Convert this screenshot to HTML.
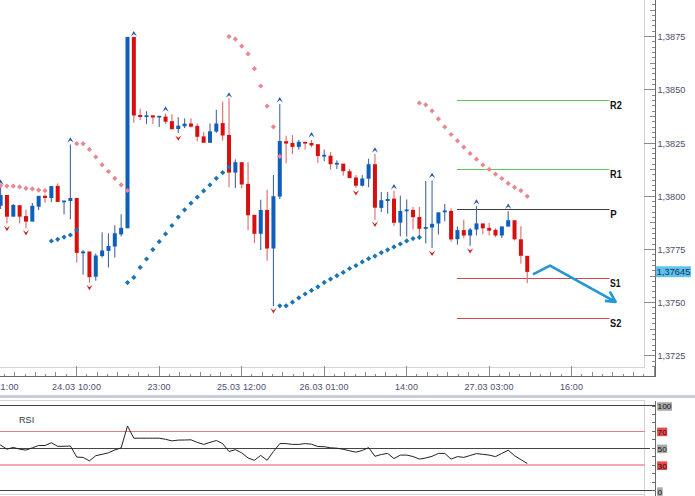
<!DOCTYPE html>
<html><head><meta charset="utf-8"><style>
html,body{margin:0;padding:0;background:#fff;width:695px;height:496px;overflow:hidden}
svg{display:block;font-family:"Liberation Sans",sans-serif}
</style></head><body>
<svg width="695" height="496" viewBox="0 0 695 496">
<rect width="695" height="496" fill="#fff"/>
<g shape-rendering="crispEdges">
<line x1="0" y1="367.5" x2="644.5" y2="367.5" stroke="#d4d4d8" stroke-width="1"/>
<line x1="644.5" y1="0" x2="644.5" y2="367.5" stroke="#d4d4d8" stroke-width="1"/>
</g>
<line x1="457" y1="100.5" x2="609.5" y2="100.5" stroke="#5fc65f" stroke-width="1"/>
<line x1="457" y1="169.5" x2="609.5" y2="169.5" stroke="#5fc65f" stroke-width="1"/>
<line x1="457" y1="209.5" x2="609.5" y2="209.5" stroke="#3a3a3a" stroke-width="1"/>
<line x1="457" y1="278.5" x2="609.5" y2="278.5" stroke="#cf4a4a" stroke-width="1"/>
<line x1="457" y1="318.5" x2="609.5" y2="318.5" stroke="#cf4a4a" stroke-width="1"/>
<rect x="0.05" y="184" width="1.1" height="11.5" fill="#46699a"/>
<rect x="0.05" y="205.3" width="1.1" height="3.7" fill="#46699a"/>
<rect x="-1.4" y="195" width="4" height="10.8" fill="#0d5fbb"/>
<rect x="6.39" y="216.2" width="1.1" height="7.2" fill="#dc6a6a"/>
<rect x="4.94" y="195" width="4" height="21.7" fill="#d80f0f"/>
<rect x="12.74" y="204" width="1.1" height="1.5" fill="#46699a"/>
<rect x="11.29" y="205" width="4" height="11.7" fill="#0d5fbb"/>
<rect x="19.09" y="216.2" width="1.1" height="7.2" fill="#dc6a6a"/>
<rect x="17.64" y="205.2" width="4" height="11.5" fill="#d80f0f"/>
<rect x="25.43" y="209.5" width="1.1" height="7.1" fill="#dc6a6a"/>
<rect x="25.43" y="221.1" width="1.1" height="7.1" fill="#dc6a6a"/>
<rect x="23.98" y="216.1" width="4" height="5.5" fill="#d80f0f"/>
<rect x="31.77" y="203" width="1.1" height="3.3" fill="#46699a"/>
<rect x="30.32" y="205.8" width="4" height="15.8" fill="#0d5fbb"/>
<rect x="38.12" y="206.2" width="1.1" height="3.8" fill="#46699a"/>
<rect x="36.67" y="195.8" width="4" height="10.9" fill="#0d5fbb"/>
<rect x="44.47" y="194.4" width="1.1" height="1.9" fill="#dc6a6a"/>
<rect x="44.47" y="197.5" width="1.1" height="5.3" fill="#dc6a6a"/>
<rect x="43.02" y="195.8" width="4" height="2.2" fill="#d80f0f"/>
<rect x="50.81" y="197.5" width="1.1" height="4.7" fill="#46699a"/>
<rect x="49.36" y="186.1" width="4" height="11.9" fill="#0d5fbb"/>
<rect x="57.16" y="183.5" width="1.1" height="2.9" fill="#dc6a6a"/>
<rect x="55.7" y="185.9" width="4" height="16" fill="#d80f0f"/>
<rect x="63.5" y="201.8" width="1.1" height="12.7" fill="#46699a"/>
<rect x="62.05" y="200.5" width="4" height="1.8" fill="#0d5fbb"/>
<rect x="69.84" y="144.5" width="1.1" height="54" fill="#46699a"/>
<rect x="69.84" y="200.5" width="1.1" height="18.7" fill="#46699a"/>
<rect x="68.39" y="198" width="4" height="3" fill="#0d5fbb"/>
<rect x="76.19" y="252.4" width="1.1" height="10.2" fill="#dc6a6a"/>
<rect x="74.74" y="198" width="4" height="54.9" fill="#d80f0f"/>
<rect x="82.53" y="249.9" width="1.1" height="2.1" fill="#46699a"/>
<rect x="82.53" y="252.8" width="1.1" height="21.9" fill="#46699a"/>
<rect x="81.08" y="251.5" width="4" height="1.8" fill="#0d5fbb"/>
<rect x="88.88" y="276.6" width="1.1" height="6.1" fill="#dc6a6a"/>
<rect x="87.43" y="251.5" width="4" height="25.6" fill="#d80f0f"/>
<rect x="95.22" y="253.5" width="1.1" height="2.5" fill="#46699a"/>
<rect x="95.22" y="276.2" width="1.1" height="4.5" fill="#46699a"/>
<rect x="93.77" y="255.5" width="4" height="21.2" fill="#0d5fbb"/>
<rect x="101.57" y="232.3" width="1.1" height="18.7" fill="#46699a"/>
<rect x="101.57" y="255.6" width="1.1" height="1.9" fill="#46699a"/>
<rect x="100.12" y="250.5" width="4" height="5.6" fill="#0d5fbb"/>
<rect x="107.91" y="233.3" width="1.1" height="13.2" fill="#46699a"/>
<rect x="107.91" y="250.4" width="1.1" height="17.2" fill="#46699a"/>
<rect x="106.46" y="246" width="4" height="4.9" fill="#0d5fbb"/>
<rect x="114.26" y="225.3" width="1.1" height="8.5" fill="#46699a"/>
<rect x="114.26" y="246" width="1.1" height="11.5" fill="#46699a"/>
<rect x="112.81" y="233.3" width="4" height="13.2" fill="#0d5fbb"/>
<rect x="120.6" y="214.2" width="1.1" height="14.2" fill="#46699a"/>
<rect x="120.6" y="233.9" width="1.1" height="2.5" fill="#46699a"/>
<rect x="119.15" y="227.9" width="4" height="6.5" fill="#0d5fbb"/>
<rect x="125.5" y="36.9" width="4" height="191.4" fill="#0d5fbb"/>
<rect x="133.29" y="115" width="1.1" height="7.7" fill="#dc6a6a"/>
<rect x="131.84" y="36.9" width="4" height="78.6" fill="#d80f0f"/>
<rect x="139.64" y="108.7" width="1.1" height="6.8" fill="#dc6a6a"/>
<rect x="139.64" y="116.5" width="1.1" height="3.7" fill="#dc6a6a"/>
<rect x="138.19" y="115" width="4" height="2" fill="#d80f0f"/>
<rect x="145.98" y="111.2" width="1.1" height="4.6" fill="#46699a"/>
<rect x="145.98" y="116.5" width="1.1" height="7.4" fill="#46699a"/>
<rect x="144.53" y="115.3" width="4" height="1.7" fill="#0d5fbb"/>
<rect x="152.33" y="117" width="1.1" height="6.9" fill="#dc6a6a"/>
<rect x="150.88" y="115.3" width="4" height="2.2" fill="#d80f0f"/>
<rect x="158.67" y="117" width="1.1" height="9.9" fill="#46699a"/>
<rect x="157.22" y="115.8" width="4" height="1.7" fill="#0d5fbb"/>
<rect x="165.02" y="113.6" width="1.1" height="3.5" fill="#dc6a6a"/>
<rect x="165.02" y="121.2" width="1.1" height="2.7" fill="#dc6a6a"/>
<rect x="163.57" y="116.6" width="4" height="5.1" fill="#d80f0f"/>
<rect x="171.36" y="114.2" width="1.1" height="7.5" fill="#dc6a6a"/>
<rect x="169.91" y="121.2" width="4" height="8.1" fill="#d80f0f"/>
<rect x="177.71" y="117.2" width="1.1" height="9" fill="#46699a"/>
<rect x="177.71" y="128.5" width="1.1" height="4.5" fill="#46699a"/>
<rect x="176.26" y="125.7" width="4" height="3.3" fill="#0d5fbb"/>
<rect x="184.05" y="118.4" width="1.1" height="5.7" fill="#46699a"/>
<rect x="184.05" y="125.8" width="1.1" height="2.3" fill="#46699a"/>
<rect x="182.6" y="123.6" width="4" height="2.7" fill="#0d5fbb"/>
<rect x="190.4" y="118.3" width="1.1" height="5.7" fill="#dc6a6a"/>
<rect x="190.4" y="126.2" width="1.1" height="1.3" fill="#dc6a6a"/>
<rect x="188.95" y="123.5" width="4" height="3.2" fill="#d80f0f"/>
<rect x="196.74" y="123.5" width="1.1" height="2.9" fill="#dc6a6a"/>
<rect x="196.74" y="136.3" width="1.1" height="4.9" fill="#dc6a6a"/>
<rect x="195.29" y="125.9" width="4" height="10.9" fill="#d80f0f"/>
<rect x="203.09" y="132.2" width="1.1" height="4.7" fill="#dc6a6a"/>
<rect x="201.64" y="136.4" width="4" height="6.4" fill="#d80f0f"/>
<rect x="209.43" y="123.5" width="1.1" height="8.3" fill="#46699a"/>
<rect x="207.98" y="131.3" width="4" height="11.5" fill="#0d5fbb"/>
<rect x="215.78" y="109.8" width="1.1" height="14.2" fill="#46699a"/>
<rect x="215.78" y="131.1" width="1.1" height="1.7" fill="#46699a"/>
<rect x="214.33" y="123.5" width="4" height="8.1" fill="#0d5fbb"/>
<rect x="222.12" y="101.5" width="1.1" height="22.1" fill="#dc6a6a"/>
<rect x="222.12" y="135" width="1.1" height="5.6" fill="#dc6a6a"/>
<rect x="220.67" y="123.1" width="4" height="12.4" fill="#d80f0f"/>
<rect x="228.47" y="98.3" width="1.1" height="37.2" fill="#dc6a6a"/>
<rect x="228.47" y="172.1" width="1.1" height="15.1" fill="#dc6a6a"/>
<rect x="227.02" y="135" width="4" height="37.6" fill="#d80f0f"/>
<rect x="234.81" y="159.4" width="1.1" height="3.3" fill="#46699a"/>
<rect x="234.81" y="172.1" width="1.1" height="15.8" fill="#46699a"/>
<rect x="233.36" y="162.2" width="4" height="10.4" fill="#0d5fbb"/>
<rect x="241.16" y="184" width="1.1" height="4.5" fill="#dc6a6a"/>
<rect x="239.71" y="162.2" width="4" height="22.3" fill="#d80f0f"/>
<rect x="247.5" y="162.2" width="1.1" height="22.2" fill="#dc6a6a"/>
<rect x="247.5" y="214.8" width="1.1" height="15.3" fill="#dc6a6a"/>
<rect x="246.05" y="183.9" width="4" height="31.4" fill="#d80f0f"/>
<rect x="253.85" y="233.3" width="1.1" height="9.7" fill="#dc6a6a"/>
<rect x="252.4" y="214.8" width="4" height="19" fill="#d80f0f"/>
<rect x="260.19" y="199.7" width="1.1" height="10.8" fill="#46699a"/>
<rect x="260.19" y="233.3" width="1.1" height="16.7" fill="#46699a"/>
<rect x="258.75" y="210" width="4" height="23.8" fill="#0d5fbb"/>
<rect x="266.54" y="189.8" width="1.1" height="20.7" fill="#dc6a6a"/>
<rect x="266.54" y="248" width="1.1" height="12.8" fill="#dc6a6a"/>
<rect x="265.09" y="210" width="4" height="38.5" fill="#d80f0f"/>
<rect x="272.88" y="175" width="1.1" height="21.7" fill="#46699a"/>
<rect x="272.88" y="248" width="1.1" height="58.1" fill="#46699a"/>
<rect x="271.44" y="196.2" width="4" height="52.3" fill="#0d5fbb"/>
<rect x="279.23" y="104.2" width="1.1" height="37.3" fill="#46699a"/>
<rect x="279.23" y="196.1" width="1.1" height="2.9" fill="#46699a"/>
<rect x="277.78" y="141" width="4" height="55.6" fill="#0d5fbb"/>
<rect x="285.57" y="135.7" width="1.1" height="6" fill="#dc6a6a"/>
<rect x="285.57" y="143.1" width="1.1" height="20.4" fill="#dc6a6a"/>
<rect x="284.12" y="141.2" width="4" height="2.4" fill="#d80f0f"/>
<rect x="291.92" y="135.1" width="1.1" height="8.4" fill="#dc6a6a"/>
<rect x="291.92" y="146.4" width="1.1" height="7.5" fill="#dc6a6a"/>
<rect x="290.47" y="143" width="4" height="3.9" fill="#d80f0f"/>
<rect x="298.26" y="140" width="1.1" height="2.3" fill="#46699a"/>
<rect x="298.26" y="146.4" width="1.1" height="3.2" fill="#46699a"/>
<rect x="296.81" y="141.8" width="4" height="5.1" fill="#0d5fbb"/>
<rect x="304.61" y="143.1" width="1.1" height="6.5" fill="#dc6a6a"/>
<rect x="303.16" y="141.8" width="4" height="1.8" fill="#d80f0f"/>
<rect x="310.95" y="140" width="1.1" height="3.5" fill="#dc6a6a"/>
<rect x="310.95" y="144.9" width="1.1" height="2.3" fill="#dc6a6a"/>
<rect x="309.5" y="143" width="4" height="2.4" fill="#d80f0f"/>
<rect x="317.3" y="155.5" width="1.1" height="7.5" fill="#dc6a6a"/>
<rect x="315.85" y="144.2" width="4" height="11.8" fill="#d80f0f"/>
<rect x="323.64" y="149.6" width="1.1" height="5.7" fill="#46699a"/>
<rect x="323.64" y="156.1" width="1.1" height="5" fill="#46699a"/>
<rect x="322.19" y="154.8" width="4" height="1.8" fill="#0d5fbb"/>
<rect x="329.99" y="152" width="1.1" height="4.2" fill="#dc6a6a"/>
<rect x="329.99" y="163.7" width="1.1" height="5.9" fill="#dc6a6a"/>
<rect x="328.54" y="155.7" width="4" height="8.5" fill="#d80f0f"/>
<rect x="336.33" y="160.3" width="1.1" height="3" fill="#46699a"/>
<rect x="336.33" y="164.1" width="1.1" height="4.9" fill="#46699a"/>
<rect x="334.88" y="162.8" width="4" height="1.8" fill="#0d5fbb"/>
<rect x="342.68" y="170.7" width="1.1" height="5" fill="#dc6a6a"/>
<rect x="341.23" y="163.6" width="4" height="7.6" fill="#d80f0f"/>
<rect x="349.02" y="169" width="1.1" height="2.7" fill="#dc6a6a"/>
<rect x="347.57" y="171.2" width="4" height="6.9" fill="#d80f0f"/>
<rect x="355.37" y="175.1" width="1.1" height="2.9" fill="#dc6a6a"/>
<rect x="355.37" y="185.2" width="1.1" height="2.6" fill="#dc6a6a"/>
<rect x="353.92" y="177.5" width="4" height="8.2" fill="#d80f0f"/>
<rect x="361.71" y="175.1" width="1.1" height="3.9" fill="#46699a"/>
<rect x="361.71" y="185.2" width="1.1" height="1.4" fill="#46699a"/>
<rect x="360.26" y="178.5" width="4" height="7.2" fill="#0d5fbb"/>
<rect x="368.06" y="158.7" width="1.1" height="6" fill="#46699a"/>
<rect x="368.06" y="178.2" width="1.1" height="9" fill="#46699a"/>
<rect x="366.61" y="164.2" width="4" height="14.5" fill="#0d5fbb"/>
<rect x="374.4" y="153.9" width="1.1" height="10.8" fill="#dc6a6a"/>
<rect x="374.4" y="207.2" width="1.1" height="12.6" fill="#dc6a6a"/>
<rect x="372.95" y="164.2" width="4" height="43.5" fill="#d80f0f"/>
<rect x="380.75" y="191.9" width="1.1" height="8.8" fill="#46699a"/>
<rect x="380.75" y="207.4" width="1.1" height="4.5" fill="#46699a"/>
<rect x="379.3" y="200.2" width="4" height="7.7" fill="#0d5fbb"/>
<rect x="387.09" y="191.9" width="1.1" height="7.6" fill="#46699a"/>
<rect x="387.09" y="200.5" width="1.1" height="13.2" fill="#46699a"/>
<rect x="385.64" y="199" width="4" height="2" fill="#0d5fbb"/>
<rect x="393.44" y="190.7" width="1.1" height="8.4" fill="#dc6a6a"/>
<rect x="393.44" y="222.3" width="1.1" height="3.7" fill="#dc6a6a"/>
<rect x="391.99" y="198.6" width="4" height="24.2" fill="#d80f0f"/>
<rect x="399.78" y="195.7" width="1.1" height="15.8" fill="#46699a"/>
<rect x="399.78" y="222.1" width="1.1" height="14.2" fill="#46699a"/>
<rect x="398.33" y="211" width="4" height="11.6" fill="#0d5fbb"/>
<rect x="406.13" y="199.5" width="1.1" height="10.5" fill="#46699a"/>
<rect x="406.13" y="210.8" width="1.1" height="25.7" fill="#46699a"/>
<rect x="404.68" y="209.5" width="4" height="1.8" fill="#0d5fbb"/>
<rect x="412.48" y="207" width="1.1" height="3.4" fill="#dc6a6a"/>
<rect x="412.48" y="216.7" width="1.1" height="12.8" fill="#dc6a6a"/>
<rect x="411.03" y="209.9" width="4" height="7.3" fill="#d80f0f"/>
<rect x="418.82" y="207" width="1.1" height="10.5" fill="#dc6a6a"/>
<rect x="418.82" y="228.3" width="1.1" height="7.7" fill="#dc6a6a"/>
<rect x="417.37" y="217" width="4" height="11.8" fill="#d80f0f"/>
<rect x="425.17" y="181" width="1.1" height="46.5" fill="#46699a"/>
<rect x="425.17" y="228.3" width="1.1" height="15.1" fill="#46699a"/>
<rect x="423.72" y="227" width="4" height="1.8" fill="#0d5fbb"/>
<rect x="431.51" y="180.5" width="1.1" height="43.8" fill="#46699a"/>
<rect x="431.51" y="227" width="1.1" height="21" fill="#46699a"/>
<rect x="430.06" y="223.8" width="4" height="3.7" fill="#0d5fbb"/>
<rect x="437.86" y="223" width="1.1" height="11.5" fill="#46699a"/>
<rect x="436.41" y="212.3" width="4" height="11.2" fill="#0d5fbb"/>
<rect x="444.2" y="203.9" width="1.1" height="7.1" fill="#46699a"/>
<rect x="444.2" y="211.8" width="1.1" height="9.5" fill="#46699a"/>
<rect x="442.75" y="210.5" width="4" height="1.8" fill="#0d5fbb"/>
<rect x="450.55" y="208.3" width="1.1" height="3.1" fill="#dc6a6a"/>
<rect x="450.55" y="238.9" width="1.1" height="2.8" fill="#dc6a6a"/>
<rect x="449.1" y="210.9" width="4" height="28.5" fill="#d80f0f"/>
<rect x="456.89" y="226.5" width="1.1" height="4.1" fill="#46699a"/>
<rect x="456.89" y="238.7" width="1.1" height="5.9" fill="#46699a"/>
<rect x="455.44" y="230.1" width="4" height="9.1" fill="#0d5fbb"/>
<rect x="463.24" y="219.8" width="1.1" height="10.8" fill="#dc6a6a"/>
<rect x="463.24" y="235" width="1.1" height="3.3" fill="#dc6a6a"/>
<rect x="461.79" y="230.1" width="4" height="5.4" fill="#d80f0f"/>
<rect x="469.58" y="227.9" width="1.1" height="2.1" fill="#46699a"/>
<rect x="469.58" y="235" width="1.1" height="10.8" fill="#46699a"/>
<rect x="468.13" y="229.5" width="4" height="6" fill="#0d5fbb"/>
<rect x="475.93" y="205.9" width="1.1" height="18" fill="#46699a"/>
<rect x="475.93" y="229" width="1.1" height="6.5" fill="#46699a"/>
<rect x="474.48" y="223.4" width="4" height="6.1" fill="#0d5fbb"/>
<rect x="482.27" y="227.8" width="1.1" height="6.5" fill="#dc6a6a"/>
<rect x="480.82" y="223.4" width="4" height="4.9" fill="#d80f0f"/>
<rect x="488.62" y="223" width="1.1" height="5.4" fill="#dc6a6a"/>
<rect x="488.62" y="230.2" width="1.1" height="5.3" fill="#dc6a6a"/>
<rect x="487.17" y="227.9" width="4" height="2.8" fill="#d80f0f"/>
<rect x="494.96" y="228.3" width="1.1" height="2" fill="#dc6a6a"/>
<rect x="494.96" y="235" width="1.1" height="2.3" fill="#dc6a6a"/>
<rect x="493.51" y="229.8" width="4" height="5.7" fill="#d80f0f"/>
<rect x="501.31" y="235" width="1.1" height="3" fill="#46699a"/>
<rect x="499.86" y="226.4" width="4" height="9.1" fill="#0d5fbb"/>
<rect x="507.65" y="211.2" width="1.1" height="9.5" fill="#46699a"/>
<rect x="506.2" y="220.2" width="4" height="6.4" fill="#0d5fbb"/>
<rect x="514" y="238.8" width="1.1" height="1.7" fill="#dc6a6a"/>
<rect x="512.54" y="220.2" width="4" height="19.1" fill="#d80f0f"/>
<rect x="520.34" y="226.2" width="1.1" height="13.6" fill="#dc6a6a"/>
<rect x="520.34" y="255.3" width="1.1" height="8.4" fill="#dc6a6a"/>
<rect x="518.89" y="239.3" width="4" height="16.5" fill="#d80f0f"/>
<rect x="526.69" y="271.4" width="1.1" height="11.7" fill="#dc6a6a"/>
<rect x="525.24" y="255.8" width="4" height="16.1" fill="#d80f0f"/>
<path d="M0.6 183L3.2 185.6L0.6 188.2L-2 185.6Z" fill="#e9878f"/>
<path d="M6.94 183.5L9.54 186.1L6.94 188.7L4.34 186.1Z" fill="#e9878f"/>
<path d="M13.29 183.5L15.89 186.1L13.29 188.7L10.69 186.1Z" fill="#e9878f"/>
<path d="M19.64 184.3L22.24 186.9L19.64 189.5L17.04 186.9Z" fill="#e9878f"/>
<path d="M25.98 185.7L28.58 188.3L25.98 190.9L23.38 188.3Z" fill="#e9878f"/>
<path d="M32.32 186.3L34.92 188.9L32.32 191.5L29.72 188.9Z" fill="#e9878f"/>
<path d="M38.67 187.5L41.27 190.1L38.67 192.7L36.07 190.1Z" fill="#e9878f"/>
<path d="M45.02 188.1L47.62 190.7L45.02 193.3L42.41 190.7Z" fill="#e9878f"/>
<path d="M76.74 141.1L79.34 143.7L76.74 146.3L74.14 143.7Z" fill="#e9878f"/>
<path d="M83.08 141.1L85.68 143.7L83.08 146.3L80.48 143.7Z" fill="#e9878f"/>
<path d="M89.43 146.8L92.03 149.4L89.43 152L86.83 149.4Z" fill="#e9878f"/>
<path d="M95.77 154.4L98.37 157L95.77 159.6L93.17 157Z" fill="#e9878f"/>
<path d="M102.12 162.2L104.72 164.8L102.12 167.4L99.52 164.8Z" fill="#e9878f"/>
<path d="M108.46 168.9L111.06 171.5L108.46 174.1L105.86 171.5Z" fill="#e9878f"/>
<path d="M114.81 175.8L117.41 178.4L114.81 181L112.21 178.4Z" fill="#e9878f"/>
<path d="M121.15 182.2L123.75 184.8L121.15 187.4L118.55 184.8Z" fill="#e9878f"/>
<path d="M127.5 187.9L130.1 190.5L127.5 193.1L124.9 190.5Z" fill="#e9878f"/>
<path d="M229.02 34L231.62 36.6L229.02 39.2L226.42 36.6Z" fill="#e9878f"/>
<path d="M235.36 36.5L237.96 39.1L235.36 41.7L232.76 39.1Z" fill="#e9878f"/>
<path d="M241.71 43.6L244.31 46.2L241.71 48.8L239.11 46.2Z" fill="#e9878f"/>
<path d="M248.05 51.3L250.65 53.9L248.05 56.5L245.45 53.9Z" fill="#e9878f"/>
<path d="M254.4 66.1L257 68.7L254.4 71.3L251.8 68.7Z" fill="#e9878f"/>
<path d="M260.75 83.4L263.35 86L260.75 88.6L258.14 86Z" fill="#e9878f"/>
<path d="M267.09 103.5L269.69 106.1L267.09 108.7L264.49 106.1Z" fill="#e9878f"/>
<path d="M273.44 124.2L276.04 126.8L273.44 129.4L270.83 126.8Z" fill="#e9878f"/>
<path d="M279.78 153.8L282.38 156.4L279.78 159L277.18 156.4Z" fill="#e9878f"/>
<path d="M419.37 100.4L421.97 103L419.37 105.6L416.77 103Z" fill="#e9878f"/>
<path d="M425.72 102.2L428.32 104.8L425.72 107.4L423.12 104.8Z" fill="#e9878f"/>
<path d="M432.06 108.3L434.66 110.9L432.06 113.5L429.46 110.9Z" fill="#e9878f"/>
<path d="M438.41 116.3L441.01 118.9L438.41 121.5L435.81 118.9Z" fill="#e9878f"/>
<path d="M444.75 124.4L447.35 127L444.75 129.6L442.15 127Z" fill="#e9878f"/>
<path d="M451.1 131.9L453.7 134.5L451.1 137.1L448.5 134.5Z" fill="#e9878f"/>
<path d="M457.44 138.2L460.04 140.8L457.44 143.4L454.84 140.8Z" fill="#e9878f"/>
<path d="M463.79 144.6L466.39 147.2L463.79 149.8L461.19 147.2Z" fill="#e9878f"/>
<path d="M470.13 150.9L472.73 153.5L470.13 156.1L467.53 153.5Z" fill="#e9878f"/>
<path d="M476.48 156.6L479.08 159.2L476.48 161.8L473.88 159.2Z" fill="#e9878f"/>
<path d="M482.82 162.4L485.42 165L482.82 167.6L480.22 165Z" fill="#e9878f"/>
<path d="M489.17 166.7L491.77 169.3L489.17 171.9L486.56 169.3Z" fill="#e9878f"/>
<path d="M495.51 171.6L498.11 174.2L495.51 176.8L492.91 174.2Z" fill="#e9878f"/>
<path d="M501.86 175.9L504.46 178.5L501.86 181.1L499.25 178.5Z" fill="#e9878f"/>
<path d="M508.2 180.8L510.8 183.4L508.2 186L505.6 183.4Z" fill="#e9878f"/>
<path d="M514.54 184.7L517.14 187.3L514.54 189.9L511.94 187.3Z" fill="#e9878f"/>
<path d="M520.89 188L523.49 190.6L520.89 193.2L518.29 190.6Z" fill="#e9878f"/>
<path d="M527.24 193.7L529.84 196.3L527.24 198.9L524.63 196.3Z" fill="#e9878f"/>
<path d="M51.36 238.4L53.96 241L51.36 243.6L48.76 241Z" fill="#1a74b6"/>
<path d="M57.7 236.7L60.3 239.3L57.7 241.9L55.1 239.3Z" fill="#1a74b6"/>
<path d="M64.05 234.5L66.65 237.1L64.05 239.7L61.45 237.1Z" fill="#1a74b6"/>
<path d="M70.39 232.4L72.99 235L70.39 237.6L67.8 235Z" fill="#1a74b6"/>
<path d="M76.74 227.5L79.34 230.1L76.74 232.7L74.14 230.1Z" fill="#1a74b6"/>
<path d="M127.5 280L130.1 282.6L127.5 285.2L124.9 282.6Z" fill="#1a74b6"/>
<path d="M133.84 274.8L136.44 277.4L133.84 280L131.25 277.4Z" fill="#1a74b6"/>
<path d="M140.19 264.8L142.79 267.4L140.19 270L137.59 267.4Z" fill="#1a74b6"/>
<path d="M146.53 256.4L149.13 259L146.53 261.6L143.94 259Z" fill="#1a74b6"/>
<path d="M152.88 247L155.48 249.6L152.88 252.2L150.28 249.6Z" fill="#1a74b6"/>
<path d="M159.22 239.1L161.82 241.7L159.22 244.3L156.62 241.7Z" fill="#1a74b6"/>
<path d="M165.57 231.3L168.17 233.9L165.57 236.5L162.97 233.9Z" fill="#1a74b6"/>
<path d="M171.91 222.9L174.51 225.5L171.91 228.1L169.31 225.5Z" fill="#1a74b6"/>
<path d="M178.26 214.5L180.86 217.1L178.26 219.7L175.66 217.1Z" fill="#1a74b6"/>
<path d="M184.6 207.2L187.2 209.8L184.6 212.4L182 209.8Z" fill="#1a74b6"/>
<path d="M190.95 200.6L193.55 203.2L190.95 205.8L188.35 203.2Z" fill="#1a74b6"/>
<path d="M197.29 194.6L199.89 197.2L197.29 199.8L194.69 197.2Z" fill="#1a74b6"/>
<path d="M203.64 188.3L206.24 190.9L203.64 193.5L201.04 190.9Z" fill="#1a74b6"/>
<path d="M209.98 182.3L212.58 184.9L209.98 187.5L207.38 184.9Z" fill="#1a74b6"/>
<path d="M216.33 175.7L218.93 178.3L216.33 180.9L213.73 178.3Z" fill="#1a74b6"/>
<path d="M222.67 170L225.27 172.6L222.67 175.2L220.07 172.6Z" fill="#1a74b6"/>
<path d="M229.02 164.5L231.62 167.1L229.02 169.7L226.42 167.1Z" fill="#1a74b6"/>
<path d="M279.78 303.2L282.38 305.8L279.78 308.4L277.18 305.8Z" fill="#1a74b6"/>
<path d="M286.12 303.2L288.73 305.8L286.12 308.4L283.52 305.8Z" fill="#1a74b6"/>
<path d="M292.47 299.6L295.07 302.2L292.47 304.8L289.87 302.2Z" fill="#1a74b6"/>
<path d="M298.81 295.2L301.42 297.8L298.81 300.4L296.21 297.8Z" fill="#1a74b6"/>
<path d="M305.16 291.4L307.76 294L305.16 296.6L302.56 294Z" fill="#1a74b6"/>
<path d="M311.5 287.8L314.11 290.4L311.5 293L308.9 290.4Z" fill="#1a74b6"/>
<path d="M317.85 284.2L320.45 286.8L317.85 289.4L315.25 286.8Z" fill="#1a74b6"/>
<path d="M324.19 279.8L326.8 282.4L324.19 285L321.59 282.4Z" fill="#1a74b6"/>
<path d="M330.54 276.5L333.14 279.1L330.54 281.7L327.94 279.1Z" fill="#1a74b6"/>
<path d="M336.88 273.1L339.49 275.7L336.88 278.3L334.28 275.7Z" fill="#1a74b6"/>
<path d="M343.23 269.8L345.83 272.4L343.23 275L340.63 272.4Z" fill="#1a74b6"/>
<path d="M349.57 265.9L352.18 268.5L349.57 271.1L346.97 268.5Z" fill="#1a74b6"/>
<path d="M355.92 263L358.52 265.6L355.92 268.2L353.32 265.6Z" fill="#1a74b6"/>
<path d="M362.26 259.3L364.87 261.9L362.26 264.5L359.66 261.9Z" fill="#1a74b6"/>
<path d="M368.61 256.1L371.21 258.7L368.61 261.3L366.01 258.7Z" fill="#1a74b6"/>
<path d="M374.95 253.5L377.56 256.1L374.95 258.7L372.35 256.1Z" fill="#1a74b6"/>
<path d="M381.3 250.1L383.9 252.7L381.3 255.3L378.7 252.7Z" fill="#1a74b6"/>
<path d="M387.64 247.2L390.25 249.8L387.64 252.4L385.04 249.8Z" fill="#1a74b6"/>
<path d="M393.99 244.3L396.59 246.9L393.99 249.5L391.39 246.9Z" fill="#1a74b6"/>
<path d="M400.33 241.4L402.94 244L400.33 246.6L397.73 244Z" fill="#1a74b6"/>
<path d="M406.68 238.3L409.28 240.9L406.68 243.5L404.08 240.9Z" fill="#1a74b6"/>
<path d="M413.03 236L415.63 238.6L413.03 241.2L410.43 238.6Z" fill="#1a74b6"/>
<path d="M419.37 234.7L421.97 237.3L419.37 239.9L416.77 237.3Z" fill="#1a74b6"/>
<path d="M-2.5 184.9L0.6 179.5L3.7 184.9L0.6 182.5Z" fill="#21569e"/>
<path d="M67.3 142.7L70.39 137.3L73.49 142.7L70.39 140.3Z" fill="#21569e"/>
<path d="M130.75 36.3L133.84 30.9L136.94 36.3L133.84 33.9Z" fill="#21569e"/>
<path d="M162.47 111.7L165.57 106.3L168.67 111.7L165.57 109.3Z" fill="#21569e"/>
<path d="M225.92 97.7L229.02 92.3L232.12 97.7L229.02 95.3Z" fill="#21569e"/>
<path d="M276.68 102.4L279.78 97L282.88 102.4L279.78 100Z" fill="#21569e"/>
<path d="M308.4 137.5L311.5 132.1L314.61 137.5L311.5 135.1Z" fill="#21569e"/>
<path d="M371.85 152.7L374.95 147.3L378.06 152.7L374.95 150.3Z" fill="#21569e"/>
<path d="M390.89 189.4L393.99 184L397.09 189.4L393.99 187Z" fill="#21569e"/>
<path d="M428.96 178.1L432.06 172.7L435.16 178.1L432.06 175.7Z" fill="#21569e"/>
<path d="M473.38 204.6L476.48 199.2L479.58 204.6L476.48 202.2Z" fill="#21569e"/>
<path d="M505.1 209L508.2 203.6L511.3 209L508.2 206.6Z" fill="#21569e"/>
<path d="M3.84 225.8L6.94 231.2L10.04 225.8L6.94 228.2Z" fill="#cf1c1c"/>
<path d="M22.88 230L25.98 235.4L29.08 230L25.98 232.4Z" fill="#cf1c1c"/>
<path d="M86.33 284.8L89.43 290.2L92.53 284.8L89.43 287.2Z" fill="#cf1c1c"/>
<path d="M175.16 135.4L178.26 140.8L181.36 135.4L178.26 137.8Z" fill="#cf1c1c"/>
<path d="M270.33 308L273.44 313.4L276.54 308L273.44 310.4Z" fill="#cf1c1c"/>
<path d="M352.82 190.2L355.92 195.6L359.02 190.2L355.92 192.6Z" fill="#cf1c1c"/>
<path d="M371.85 221.6L374.95 227L378.06 221.6L374.95 224Z" fill="#cf1c1c"/>
<path d="M428.96 250.7L432.06 256.1L435.16 250.7L432.06 253.1Z" fill="#cf1c1c"/>
<path d="M467.03 248.2L470.13 253.6L473.23 248.2L470.13 250.6Z" fill="#cf1c1c"/>
<path d="M533 274.4L550 265.6L615 301.6" fill="none" stroke="#2297d6" stroke-width="2.7" stroke-linejoin="round"/>
<path d="M609.8 291.6L615.6 301.9L604.9 300.9" fill="none" stroke="#2297d6" stroke-width="2.7" stroke-linejoin="round" stroke-linecap="butt"/>
<text x="610.1" y="108.8" font-family="Liberation Sans" font-weight="bold" font-size="10.4" fill="#111" textLength="11.7" lengthAdjust="spacingAndGlyphs">R2</text>
<text x="610.1" y="177.8" font-family="Liberation Sans" font-weight="bold" font-size="10.4" fill="#111" textLength="11.7" lengthAdjust="spacingAndGlyphs">R1</text>
<text x="610.3" y="217.8" font-family="Liberation Sans" font-weight="bold" font-size="10.4" fill="#111" textLength="6.4" lengthAdjust="spacingAndGlyphs">P</text>
<text x="610.1" y="286.8" font-family="Liberation Sans" font-weight="bold" font-size="10.4" fill="#111" textLength="10.6" lengthAdjust="spacingAndGlyphs">S1</text>
<text x="610.1" y="327.1" font-family="Liberation Sans" font-weight="bold" font-size="10.4" fill="#111" textLength="11.2" lengthAdjust="spacingAndGlyphs">S2</text>
<g shape-rendering="crispEdges">
<line x1="655.5" y1="0" x2="655.5" y2="376.5" stroke="#6a6a6a" stroke-width="1"/>
<line x1="0" y1="376.5" x2="656" y2="376.5" stroke="#6a6a6a" stroke-width="1"/>
<line x1="652" y1="4.5" x2="655" y2="4.5" stroke="#8a8a8a" stroke-width="1"/>
<line x1="650" y1="10.5" x2="655" y2="10.5" stroke="#8a8a8a" stroke-width="1"/>
<line x1="652" y1="15.5" x2="655" y2="15.5" stroke="#8a8a8a" stroke-width="1"/>
<line x1="652" y1="20.5" x2="655" y2="20.5" stroke="#8a8a8a" stroke-width="1"/>
<line x1="652" y1="25.5" x2="655" y2="25.5" stroke="#8a8a8a" stroke-width="1"/>
<line x1="652" y1="31.5" x2="655" y2="31.5" stroke="#8a8a8a" stroke-width="1"/>
<line x1="644" y1="36.5" x2="655" y2="36.5" stroke="#8a8a8a" stroke-width="1"/>
<line x1="652" y1="41.5" x2="655" y2="41.5" stroke="#8a8a8a" stroke-width="1"/>
<line x1="652" y1="47.5" x2="655" y2="47.5" stroke="#8a8a8a" stroke-width="1"/>
<line x1="652" y1="52.5" x2="655" y2="52.5" stroke="#8a8a8a" stroke-width="1"/>
<line x1="652" y1="57.5" x2="655" y2="57.5" stroke="#8a8a8a" stroke-width="1"/>
<line x1="650" y1="63.5" x2="655" y2="63.5" stroke="#8a8a8a" stroke-width="1"/>
<line x1="652" y1="68.5" x2="655" y2="68.5" stroke="#8a8a8a" stroke-width="1"/>
<line x1="652" y1="73.5" x2="655" y2="73.5" stroke="#8a8a8a" stroke-width="1"/>
<line x1="652" y1="79.5" x2="655" y2="79.5" stroke="#8a8a8a" stroke-width="1"/>
<line x1="652" y1="84.5" x2="655" y2="84.5" stroke="#8a8a8a" stroke-width="1"/>
<line x1="644" y1="89.5" x2="655" y2="89.5" stroke="#8a8a8a" stroke-width="1"/>
<line x1="652" y1="95.5" x2="655" y2="95.5" stroke="#8a8a8a" stroke-width="1"/>
<line x1="652" y1="100.5" x2="655" y2="100.5" stroke="#8a8a8a" stroke-width="1"/>
<line x1="652" y1="105.5" x2="655" y2="105.5" stroke="#8a8a8a" stroke-width="1"/>
<line x1="652" y1="111.5" x2="655" y2="111.5" stroke="#8a8a8a" stroke-width="1"/>
<line x1="650" y1="116.5" x2="655" y2="116.5" stroke="#8a8a8a" stroke-width="1"/>
<line x1="652" y1="121.5" x2="655" y2="121.5" stroke="#8a8a8a" stroke-width="1"/>
<line x1="652" y1="127.5" x2="655" y2="127.5" stroke="#8a8a8a" stroke-width="1"/>
<line x1="652" y1="132.5" x2="655" y2="132.5" stroke="#8a8a8a" stroke-width="1"/>
<line x1="652" y1="137.5" x2="655" y2="137.5" stroke="#8a8a8a" stroke-width="1"/>
<line x1="644" y1="143.5" x2="655" y2="143.5" stroke="#8a8a8a" stroke-width="1"/>
<line x1="652" y1="148.5" x2="655" y2="148.5" stroke="#8a8a8a" stroke-width="1"/>
<line x1="652" y1="153.5" x2="655" y2="153.5" stroke="#8a8a8a" stroke-width="1"/>
<line x1="652" y1="158.5" x2="655" y2="158.5" stroke="#8a8a8a" stroke-width="1"/>
<line x1="652" y1="164.5" x2="655" y2="164.5" stroke="#8a8a8a" stroke-width="1"/>
<line x1="650" y1="169.5" x2="655" y2="169.5" stroke="#8a8a8a" stroke-width="1"/>
<line x1="652" y1="174.5" x2="655" y2="174.5" stroke="#8a8a8a" stroke-width="1"/>
<line x1="652" y1="180.5" x2="655" y2="180.5" stroke="#8a8a8a" stroke-width="1"/>
<line x1="652" y1="185.5" x2="655" y2="185.5" stroke="#8a8a8a" stroke-width="1"/>
<line x1="652" y1="190.5" x2="655" y2="190.5" stroke="#8a8a8a" stroke-width="1"/>
<line x1="644" y1="196.5" x2="655" y2="196.5" stroke="#8a8a8a" stroke-width="1"/>
<line x1="652" y1="201.5" x2="655" y2="201.5" stroke="#8a8a8a" stroke-width="1"/>
<line x1="652" y1="206.5" x2="655" y2="206.5" stroke="#8a8a8a" stroke-width="1"/>
<line x1="652" y1="212.5" x2="655" y2="212.5" stroke="#8a8a8a" stroke-width="1"/>
<line x1="652" y1="217.5" x2="655" y2="217.5" stroke="#8a8a8a" stroke-width="1"/>
<line x1="650" y1="222.5" x2="655" y2="222.5" stroke="#8a8a8a" stroke-width="1"/>
<line x1="652" y1="228.5" x2="655" y2="228.5" stroke="#8a8a8a" stroke-width="1"/>
<line x1="652" y1="233.5" x2="655" y2="233.5" stroke="#8a8a8a" stroke-width="1"/>
<line x1="652" y1="238.5" x2="655" y2="238.5" stroke="#8a8a8a" stroke-width="1"/>
<line x1="652" y1="244.5" x2="655" y2="244.5" stroke="#8a8a8a" stroke-width="1"/>
<line x1="644" y1="249.5" x2="655" y2="249.5" stroke="#8a8a8a" stroke-width="1"/>
<line x1="652" y1="254.5" x2="655" y2="254.5" stroke="#8a8a8a" stroke-width="1"/>
<line x1="652" y1="260.5" x2="655" y2="260.5" stroke="#8a8a8a" stroke-width="1"/>
<line x1="652" y1="265.5" x2="655" y2="265.5" stroke="#8a8a8a" stroke-width="1"/>
<line x1="652" y1="270.5" x2="655" y2="270.5" stroke="#8a8a8a" stroke-width="1"/>
<line x1="650" y1="276.5" x2="655" y2="276.5" stroke="#8a8a8a" stroke-width="1"/>
<line x1="652" y1="281.5" x2="655" y2="281.5" stroke="#8a8a8a" stroke-width="1"/>
<line x1="652" y1="286.5" x2="655" y2="286.5" stroke="#8a8a8a" stroke-width="1"/>
<line x1="652" y1="291.5" x2="655" y2="291.5" stroke="#8a8a8a" stroke-width="1"/>
<line x1="652" y1="297.5" x2="655" y2="297.5" stroke="#8a8a8a" stroke-width="1"/>
<line x1="644" y1="302.5" x2="655" y2="302.5" stroke="#8a8a8a" stroke-width="1"/>
<line x1="652" y1="307.5" x2="655" y2="307.5" stroke="#8a8a8a" stroke-width="1"/>
<line x1="652" y1="313.5" x2="655" y2="313.5" stroke="#8a8a8a" stroke-width="1"/>
<line x1="652" y1="318.5" x2="655" y2="318.5" stroke="#8a8a8a" stroke-width="1"/>
<line x1="652" y1="323.5" x2="655" y2="323.5" stroke="#8a8a8a" stroke-width="1"/>
<line x1="650" y1="329.5" x2="655" y2="329.5" stroke="#8a8a8a" stroke-width="1"/>
<line x1="652" y1="334.5" x2="655" y2="334.5" stroke="#8a8a8a" stroke-width="1"/>
<line x1="652" y1="339.5" x2="655" y2="339.5" stroke="#8a8a8a" stroke-width="1"/>
<line x1="652" y1="345.5" x2="655" y2="345.5" stroke="#8a8a8a" stroke-width="1"/>
<line x1="652" y1="350.5" x2="655" y2="350.5" stroke="#8a8a8a" stroke-width="1"/>
<line x1="644" y1="355.5" x2="655" y2="355.5" stroke="#8a8a8a" stroke-width="1"/>
<line x1="652" y1="361.5" x2="655" y2="361.5" stroke="#8a8a8a" stroke-width="1"/>
<line x1="652" y1="366.5" x2="655" y2="366.5" stroke="#8a8a8a" stroke-width="1"/>
</g>
<text x="657.4" y="40.2" font-family="Liberation Sans" font-size="8.5" fill="#4d4d6b" textLength="27.9" lengthAdjust="spacingAndGlyphs">1,3875</text>
<text x="657.4" y="93.4" font-family="Liberation Sans" font-size="8.5" fill="#4d4d6b" textLength="27.9" lengthAdjust="spacingAndGlyphs">1,3850</text>
<text x="657.4" y="146.6" font-family="Liberation Sans" font-size="8.5" fill="#4d4d6b" textLength="27.9" lengthAdjust="spacingAndGlyphs">1,3825</text>
<text x="657.4" y="199.8" font-family="Liberation Sans" font-size="8.5" fill="#4d4d6b" textLength="27.9" lengthAdjust="spacingAndGlyphs">1,3800</text>
<text x="657.4" y="253" font-family="Liberation Sans" font-size="8.5" fill="#4d4d6b" textLength="27.9" lengthAdjust="spacingAndGlyphs">1,3775</text>
<text x="657.4" y="306.2" font-family="Liberation Sans" font-size="8.5" fill="#4d4d6b" textLength="27.9" lengthAdjust="spacingAndGlyphs">1,3750</text>
<text x="657.4" y="359.4" font-family="Liberation Sans" font-size="8.5" fill="#4d4d6b" textLength="27.9" lengthAdjust="spacingAndGlyphs">1,3725</text>
<rect x="655.8" y="266.3" width="35.1" height="10.9" fill="#5cc3ee"/>
<text x="656.8" y="274.8" font-family="Liberation Sans" font-size="8.5" fill="#1b2f5a" textLength="33.5" lengthAdjust="spacingAndGlyphs">1,37645</text>
<g shape-rendering="crispEdges">
<line x1="4.5" y1="374" x2="4.5" y2="376" stroke="#8a8a8a" stroke-width="1"/>
<line x1="14.5" y1="372" x2="14.5" y2="376" stroke="#8a8a8a" stroke-width="1"/>
<line x1="25.5" y1="374" x2="25.5" y2="376" stroke="#8a8a8a" stroke-width="1"/>
<line x1="35.5" y1="372" x2="35.5" y2="376" stroke="#8a8a8a" stroke-width="1"/>
<line x1="45.5" y1="374" x2="45.5" y2="376" stroke="#8a8a8a" stroke-width="1"/>
<line x1="55.5" y1="372" x2="55.5" y2="376" stroke="#8a8a8a" stroke-width="1"/>
<line x1="66.5" y1="374" x2="66.5" y2="376" stroke="#8a8a8a" stroke-width="1"/>
<line x1="76.5" y1="366" x2="76.5" y2="376" stroke="#8a8a8a" stroke-width="1"/>
<line x1="86.5" y1="374" x2="86.5" y2="376" stroke="#8a8a8a" stroke-width="1"/>
<line x1="97.5" y1="372" x2="97.5" y2="376" stroke="#8a8a8a" stroke-width="1"/>
<line x1="107.5" y1="374" x2="107.5" y2="376" stroke="#8a8a8a" stroke-width="1"/>
<line x1="117.5" y1="372" x2="117.5" y2="376" stroke="#8a8a8a" stroke-width="1"/>
<line x1="128.5" y1="374" x2="128.5" y2="376" stroke="#8a8a8a" stroke-width="1"/>
<line x1="138.5" y1="372" x2="138.5" y2="376" stroke="#8a8a8a" stroke-width="1"/>
<line x1="148.5" y1="374" x2="148.5" y2="376" stroke="#8a8a8a" stroke-width="1"/>
<line x1="159.5" y1="366" x2="159.5" y2="376" stroke="#8a8a8a" stroke-width="1"/>
<line x1="169.5" y1="374" x2="169.5" y2="376" stroke="#8a8a8a" stroke-width="1"/>
<line x1="179.5" y1="372" x2="179.5" y2="376" stroke="#8a8a8a" stroke-width="1"/>
<line x1="190.5" y1="374" x2="190.5" y2="376" stroke="#8a8a8a" stroke-width="1"/>
<line x1="200.5" y1="372" x2="200.5" y2="376" stroke="#8a8a8a" stroke-width="1"/>
<line x1="210.5" y1="374" x2="210.5" y2="376" stroke="#8a8a8a" stroke-width="1"/>
<line x1="220.5" y1="372" x2="220.5" y2="376" stroke="#8a8a8a" stroke-width="1"/>
<line x1="231.5" y1="374" x2="231.5" y2="376" stroke="#8a8a8a" stroke-width="1"/>
<line x1="241.5" y1="366" x2="241.5" y2="376" stroke="#8a8a8a" stroke-width="1"/>
<line x1="251.5" y1="374" x2="251.5" y2="376" stroke="#8a8a8a" stroke-width="1"/>
<line x1="262.5" y1="372" x2="262.5" y2="376" stroke="#8a8a8a" stroke-width="1"/>
<line x1="272.5" y1="374" x2="272.5" y2="376" stroke="#8a8a8a" stroke-width="1"/>
<line x1="282.5" y1="372" x2="282.5" y2="376" stroke="#8a8a8a" stroke-width="1"/>
<line x1="293.5" y1="374" x2="293.5" y2="376" stroke="#8a8a8a" stroke-width="1"/>
<line x1="303.5" y1="372" x2="303.5" y2="376" stroke="#8a8a8a" stroke-width="1"/>
<line x1="313.5" y1="374" x2="313.5" y2="376" stroke="#8a8a8a" stroke-width="1"/>
<line x1="324.5" y1="366" x2="324.5" y2="376" stroke="#8a8a8a" stroke-width="1"/>
<line x1="334.5" y1="374" x2="334.5" y2="376" stroke="#8a8a8a" stroke-width="1"/>
<line x1="344.5" y1="372" x2="344.5" y2="376" stroke="#8a8a8a" stroke-width="1"/>
<line x1="355.5" y1="374" x2="355.5" y2="376" stroke="#8a8a8a" stroke-width="1"/>
<line x1="365.5" y1="372" x2="365.5" y2="376" stroke="#8a8a8a" stroke-width="1"/>
<line x1="375.5" y1="374" x2="375.5" y2="376" stroke="#8a8a8a" stroke-width="1"/>
<line x1="385.5" y1="372" x2="385.5" y2="376" stroke="#8a8a8a" stroke-width="1"/>
<line x1="396.5" y1="374" x2="396.5" y2="376" stroke="#8a8a8a" stroke-width="1"/>
<line x1="406.5" y1="366" x2="406.5" y2="376" stroke="#8a8a8a" stroke-width="1"/>
<line x1="416.5" y1="374" x2="416.5" y2="376" stroke="#8a8a8a" stroke-width="1"/>
<line x1="427.5" y1="372" x2="427.5" y2="376" stroke="#8a8a8a" stroke-width="1"/>
<line x1="437.5" y1="374" x2="437.5" y2="376" stroke="#8a8a8a" stroke-width="1"/>
<line x1="447.5" y1="372" x2="447.5" y2="376" stroke="#8a8a8a" stroke-width="1"/>
<line x1="458.5" y1="374" x2="458.5" y2="376" stroke="#8a8a8a" stroke-width="1"/>
<line x1="468.5" y1="372" x2="468.5" y2="376" stroke="#8a8a8a" stroke-width="1"/>
<line x1="478.5" y1="374" x2="478.5" y2="376" stroke="#8a8a8a" stroke-width="1"/>
<line x1="489.5" y1="366" x2="489.5" y2="376" stroke="#8a8a8a" stroke-width="1"/>
<line x1="499.5" y1="374" x2="499.5" y2="376" stroke="#8a8a8a" stroke-width="1"/>
<line x1="509.5" y1="372" x2="509.5" y2="376" stroke="#8a8a8a" stroke-width="1"/>
<line x1="519.5" y1="374" x2="519.5" y2="376" stroke="#8a8a8a" stroke-width="1"/>
<line x1="530.5" y1="372" x2="530.5" y2="376" stroke="#8a8a8a" stroke-width="1"/>
<line x1="540.5" y1="374" x2="540.5" y2="376" stroke="#8a8a8a" stroke-width="1"/>
<line x1="550.5" y1="372" x2="550.5" y2="376" stroke="#8a8a8a" stroke-width="1"/>
<line x1="561.5" y1="374" x2="561.5" y2="376" stroke="#8a8a8a" stroke-width="1"/>
<line x1="571.5" y1="366" x2="571.5" y2="376" stroke="#8a8a8a" stroke-width="1"/>
<line x1="581.5" y1="374" x2="581.5" y2="376" stroke="#8a8a8a" stroke-width="1"/>
<line x1="592.5" y1="372" x2="592.5" y2="376" stroke="#8a8a8a" stroke-width="1"/>
<line x1="602.5" y1="374" x2="602.5" y2="376" stroke="#8a8a8a" stroke-width="1"/>
<line x1="612.5" y1="372" x2="612.5" y2="376" stroke="#8a8a8a" stroke-width="1"/>
<line x1="623.5" y1="374" x2="623.5" y2="376" stroke="#8a8a8a" stroke-width="1"/>
<line x1="633.5" y1="372" x2="633.5" y2="376" stroke="#8a8a8a" stroke-width="1"/>
<line x1="643.5" y1="374" x2="643.5" y2="376" stroke="#8a8a8a" stroke-width="1"/>
<line x1="654.5" y1="366" x2="654.5" y2="376" stroke="#8a8a8a" stroke-width="1"/>
</g>
<text x="-5.89" y="389.7" text-anchor="middle" font-family="Liberation Sans" font-size="9" letter-spacing="0.15" fill="#4d4d72">23.03 21:00</text>
<text x="76.6" y="389.7" text-anchor="middle" font-family="Liberation Sans" font-size="9" letter-spacing="0.15" fill="#4d4d72">24.03 10:00</text>
<text x="159.09" y="389.7" text-anchor="middle" font-family="Liberation Sans" font-size="9" letter-spacing="0.15" fill="#4d4d72">23:00</text>
<text x="241.58" y="389.7" text-anchor="middle" font-family="Liberation Sans" font-size="9" letter-spacing="0.15" fill="#4d4d72">25.03 12:00</text>
<text x="324.07" y="389.7" text-anchor="middle" font-family="Liberation Sans" font-size="9" letter-spacing="0.15" fill="#4d4d72">26.03 01:00</text>
<text x="406.56" y="389.7" text-anchor="middle" font-family="Liberation Sans" font-size="9" letter-spacing="0.15" fill="#4d4d72">14:00</text>
<text x="489.05" y="389.7" text-anchor="middle" font-family="Liberation Sans" font-size="9" letter-spacing="0.15" fill="#4d4d72">27.03 03:00</text>
<text x="571.54" y="389.7" text-anchor="middle" font-family="Liberation Sans" font-size="9" letter-spacing="0.15" fill="#4d4d72">16:00</text>
<rect x="0" y="395" width="695" height="3" fill="#c9cedc"/>
<g shape-rendering="crispEdges">
<line x1="0" y1="400.5" x2="644.5" y2="400.5" stroke="#d4d4d8" stroke-width="1"/>
<line x1="644.5" y1="400.5" x2="644.5" y2="496" stroke="#d4d4d8" stroke-width="1"/>
<line x1="0" y1="494.5" x2="644.5" y2="494.5" stroke="#d4d4d8" stroke-width="1"/>
<line x1="655.5" y1="401" x2="655.5" y2="496" stroke="#6a6a6a" stroke-width="1"/>
<line x1="0" y1="405.5" x2="655" y2="405.5" stroke="#444" stroke-width="1"/>
<line x1="0" y1="490.5" x2="655" y2="490.5" stroke="#444" stroke-width="1"/>
<line x1="0" y1="448.5" x2="650" y2="448.5" stroke="#444" stroke-width="1"/>
<line x1="0" y1="431.4" x2="644.5" y2="431.4" stroke="#e07e86" stroke-width="1.3"/>
<line x1="0" y1="465" x2="644.5" y2="465" stroke="#f2a9b0" stroke-width="1.8"/>
<line x1="652" y1="490.5" x2="655" y2="490.5" stroke="#6a6a6a" stroke-width="1"/>
<line x1="652" y1="482.5" x2="655" y2="482.5" stroke="#6a6a6a" stroke-width="1"/>
<line x1="652" y1="473.5" x2="655" y2="473.5" stroke="#6a6a6a" stroke-width="1"/>
<line x1="652" y1="465.5" x2="655" y2="465.5" stroke="#6a6a6a" stroke-width="1"/>
<line x1="652" y1="456.5" x2="655" y2="456.5" stroke="#6a6a6a" stroke-width="1"/>
<line x1="652" y1="448.5" x2="655" y2="448.5" stroke="#6a6a6a" stroke-width="1"/>
<line x1="652" y1="439.5" x2="655" y2="439.5" stroke="#6a6a6a" stroke-width="1"/>
<line x1="652" y1="431.5" x2="655" y2="431.5" stroke="#6a6a6a" stroke-width="1"/>
<line x1="652" y1="422.5" x2="655" y2="422.5" stroke="#6a6a6a" stroke-width="1"/>
<line x1="652" y1="414.5" x2="655" y2="414.5" stroke="#6a6a6a" stroke-width="1"/>
<line x1="652" y1="406.5" x2="655" y2="406.5" stroke="#6a6a6a" stroke-width="1"/>
</g>
<text x="19" y="422.9" font-family="Liberation Sans" font-size="9.6" fill="#333" textLength="15.2" lengthAdjust="spacingAndGlyphs">RSI</text>
<polyline points="0,445.1 0.6,445.1 6.94,449.2 13.29,447.4 19.64,449.2 25.98,450.1 32.32,447.8 38.67,445.5 45.02,445.5 51.36,442.8 57.7,446.3 64.05,446.3 70.39,446 76.74,457.1 83.08,457.4 89.43,460.9 95.77,455.7 102.12,454.3 108.46,452.8 114.81,449.9 121.15,447.9 127.5,426 133.84,438.2 140.19,438.2 146.53,438.2 152.88,438.2 159.22,438.2 165.57,439.3 171.91,440.9 178.26,440.1 184.6,440 190.95,439.8 197.29,442.4 203.64,444.4 209.98,442.4 216.33,440.5 222.67,443.6 229.02,451.5 235.36,449.7 241.71,452.8 248.05,458 254.4,460.3 260.75,455.4 267.09,460.3 273.44,451.5 279.78,443.6 286.12,443.6 292.47,444.4 298.81,444.4 305.16,443.6 311.5,444.2 317.85,446.5 324.19,446.7 330.54,447.8 336.88,448.2 343.23,449.3 349.57,450.8 355.92,452.2 362.26,450.5 368.61,447.6 374.95,456.3 381.3,454.5 387.64,453.4 393.99,458.6 400.33,455.1 406.68,455.1 413.03,456.5 419.37,459.1 425.72,458 432.06,456.3 438.41,453.4 444.75,453.4 451.1,459.1 457.44,456.6 463.79,457.4 470.13,455.5 476.48,453.6 482.82,454.3 489.17,455.1 495.51,456.6 501.86,453.4 508.2,450.2 514.54,455.7 520.89,459.6 527.24,463.5" fill="none" stroke="#222" stroke-width="1"/>
<rect x="657.1" y="402.2" width="14.9" height="8.6" fill="#a9a9a9"/><text x="657.6" y="409.4" font-family="Liberation Sans" font-size="8" fill="#111" textLength="13.9" lengthAdjust="spacingAndGlyphs">100</text>
<rect x="657.1" y="427.6" width="10.1" height="8.6" fill="#e8494b"/><text x="657.6" y="434.8" font-family="Liberation Sans" font-size="8" fill="#111" textLength="9.1" lengthAdjust="spacingAndGlyphs">70</text>
<rect x="657.1" y="444.6" width="10.1" height="8.6" fill="#a9a9a9"/><text x="657.6" y="451.8" font-family="Liberation Sans" font-size="8" fill="#111" textLength="9.1" lengthAdjust="spacingAndGlyphs">50</text>
<rect x="657.1" y="461.4" width="10.1" height="8.6" fill="#e8494b"/><text x="657.6" y="468.6" font-family="Liberation Sans" font-size="8" fill="#111" textLength="9.1" lengthAdjust="spacingAndGlyphs">30</text>
<rect x="657.1" y="487.3" width="5.6" height="8.6" fill="#a9a9a9"/><text x="657.6" y="494.5" font-family="Liberation Sans" font-size="8" fill="#111" textLength="4.6" lengthAdjust="spacingAndGlyphs">0</text>
</svg>
</body></html>
